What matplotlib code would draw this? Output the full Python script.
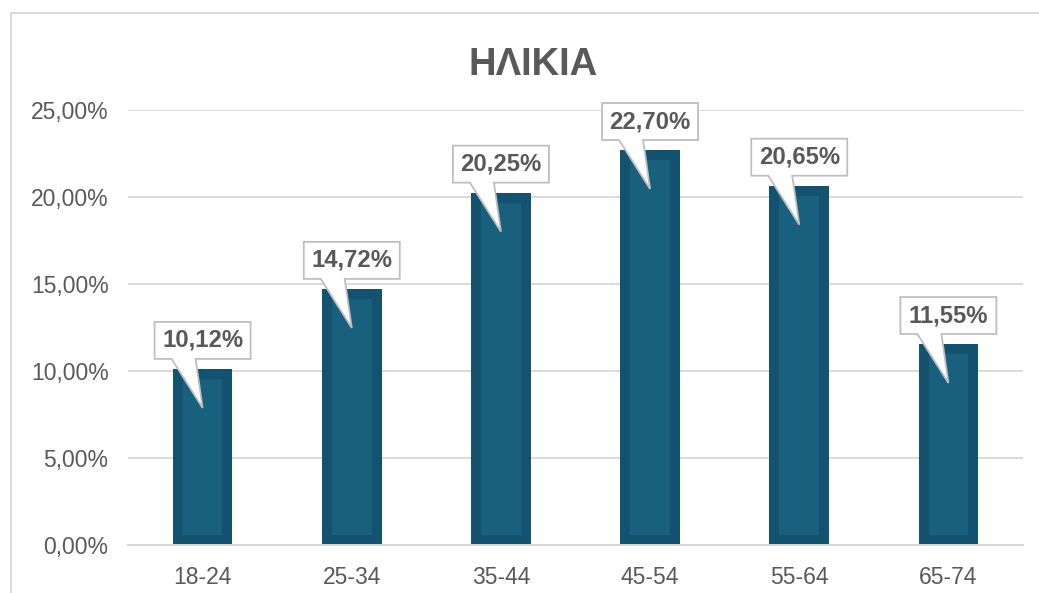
import numpy as np
import matplotlib.pyplot as plt
import matplotlib.transforms as mtransforms
from matplotlib.patches import Polygon
from matplotlib.lines import Line2D

plt.rcParams['font.family'] = ['Liberation Sans', 'DejaVu Sans']

categories = ['18-24', '25-34', '35-44', '45-54', '55-64', '65-74']
values = [10.12, 14.72, 20.25, 22.70, 20.65, 11.55]
labels = ['10,12%', '14,72%', '20,25%', '22,70%', '20,65%', '11,55%']
yticks = [0, 5, 10, 15, 20, 25]
ytick_labels = ['0,00%', '5,00%', '10,00%', '15,00%', '20,00%', '25,00%']

W, H = 1039, 593
dpi = 100
fig = plt.figure(figsize=(W / dpi, H / dpi), dpi=dpi)
ax = fig.add_axes([128 / W, (H - 545) / H, (1023 - 128) / W, (545 - 110) / H])

grey = '#595959'
x = np.arange(len(categories))

ax.set_xlim(-0.5, len(categories) - 0.5)
ax.set_ylim(0, 25)

# bars: dark outer, slightly lighter inner panel
px_x = (len(categories)) / (1023 - 128)   # data units per pixel (x)
px_y = 25 / (545 - 110)                    # data units per pixel (y)
vals = np.array(values)
ax.bar(x, vals, width=0.4, color='#14536f', zorder=2)
ax.bar(x, vals - 20 * px_y, width=0.4 - 20 * px_x, bottom=10 * px_y,
       color='#195f7e', zorder=3)

ax.set_yticks(yticks)
ax.set_yticklabels(ytick_labels)
ax.set_xticks(x)
ax.set_xticklabels(categories)
ax.tick_params(axis='both', length=0, labelsize=16.5, colors=grey)
ax.tick_params(axis='y', pad=14)
ax.tick_params(axis='x', pad=15)
ax.yaxis.grid(True, color='#d9d9d9', linewidth=1.4, zorder=0)
ax.set_axisbelow(True)
for s in ['top', 'right', 'left']:
    ax.spines[s].set_visible(False)
ax.spines['bottom'].set_color('#d9d9d9')
ax.spines['bottom'].set_linewidth(1.4)

# callout labels (shape in pixels, relative to top of each bar)
shape = [(-48, 10), (-31, 10), (0, -39), (-7, 10), (48, 10),
         (48, 47), (-48, 47)]
scale = mtransforms.Affine2D().scale(1 / dpi) + fig.dpi_scale_trans
for xi, v, lab in zip(x, values, labels):
    tr = scale + mtransforms.ScaledTranslation(xi, v, ax.transData)
    ax.add_patch(Polygon(shape, closed=True, transform=tr, facecolor='white',
                         edgecolor='#bfbfbf', linewidth=1.3, zorder=5,
                         clip_on=False))
    ax.text(0, 28.5, lab, transform=tr, ha='center', va='center',
            fontsize=17.2, fontweight='bold', color=grey, zorder=6)

fig.text(533 / W, (H - 65) / H, 'ΗΛΙΚΙΑ', ha='center', va='center',
         fontsize=27.5, fontweight='bold', color=grey)

# chart area frame
fig.add_artist(Line2D([10.5 / W, 10.5 / W], [0, (H - 13) / H],
                      transform=fig.transFigure, color='#d9d9d9', linewidth=1.4))
fig.add_artist(Line2D([10.5 / W, 1], [(H - 13) / H, (H - 13) / H],
                      transform=fig.transFigure, color='#d9d9d9', linewidth=1.4))

fig.savefig('out.png', dpi=dpi)
